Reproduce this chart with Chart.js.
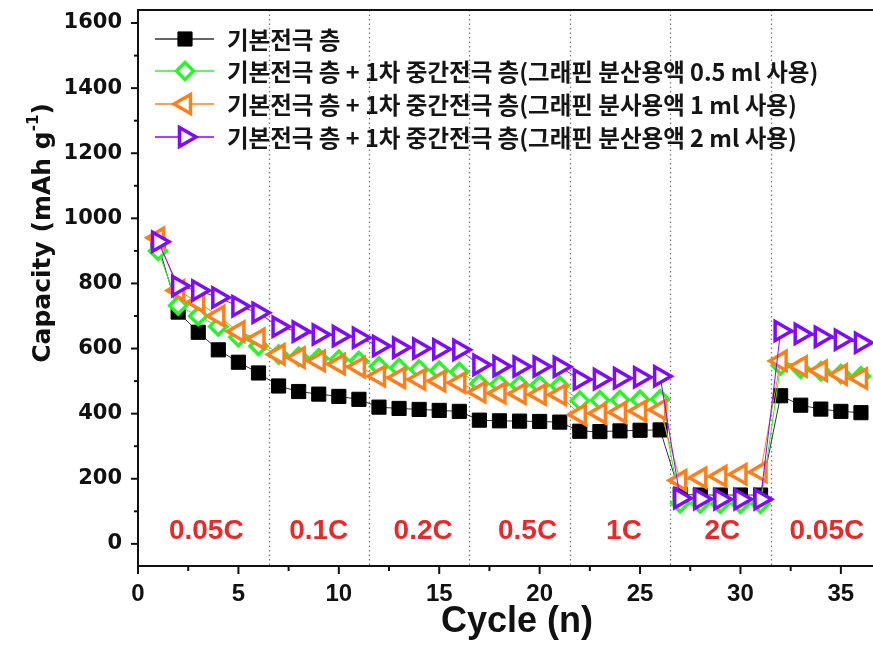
<!DOCTYPE html>
<html><head><meta charset="utf-8">
<script src="https://cdn.jsdelivr.net/npm/chart.js@4.4.0/dist/chart.umd.min.js"></script>
<style>html,body{margin:0;padding:0;background:#fff;overflow:hidden}canvas{display:block}</style>
</head><body>
<canvas id="c" width="873" height="645"></canvas>
<script>
// ---- data ----
const cycles = [1,2,3,4,5,6,7,8,9,10,11,12,13,14,15,16,17,18,19,20,21,22,23,24,25,26,27,28,29,30,31,32,33,34,35,36];
const baseCap = [920,712,650,596,558,525,485,468,460,453,444,420,416,413,410,407,380,378,377,376,374,346,345,347,349,350,152,150,150,150,150,455,426,414,407,403];
const gr05Cap = [900,732,700,668,635,608,582,575,570,566,562,545,540,536,532,528,492,490,488,487,486,440,441,442,443,444,125,124,123,123,123,548,538,530,522,515];
const gr1Cap  = [940,778,742,700,652,630,582,572,562,552,543,515,510,505,500,495,466,463,461,459,458,397,401,404,408,412,195,203,208,214,221,562,545,532,520,508];
const gr2Cap  = [928,792,778,757,730,710,667,652,643,638,633,608,603,600,598,596,550,546,545,545,544,505,506,509,512,515,140,138,137,137,137,654,645,636,627,618];
const seriesLabels = [
  '기본전극 층',
  '기본전극 층 + 1차 중간전극 층(그래핀 분산용액 0.5 ml 사용)',
  '기본전극 층 + 1차 중간전극 층(그래핀 분사용액 1 ml 사용)',
  '기본전극 층 + 1차 중간전극 층(그래핀 분산용액 2 ml 사용)'
];
const xTickValues = [0,5,10,15,20,25,30,35];
const xMinorValues = [2.5,7.5,12.5,17.5,22.5,27.5,32.5];
const yTickValues = [0,200,400,600,800,1000,1200,1400,1600];
const yMinorValues = [100,300,500,700,900,1100,1300,1500];
const rateBoundaries = [6.5,11.5,16.5,21.5,26.5,31.5];
const rateLabels = ['0.05C','0.1C','0.2C','0.5C','1C','2C','0.05C'];
const rateLabelX = [3.4,9.0,14.2,19.4,24.2,29.1,34.3];
const rateLabelY = 40;

// ---- styles ----
const styles = [
  {color:'#000000', line:'#333333', style:'rect', rot:0, r:10, bw:1, fill:'#000000'},
  {color:'#2cf22c', line:'#2cf22c', style:'rectRot', rot:0, r:8.5, bw:3.5, fill:'#ffffff'},
  {color:'#ff7f1e', line:'#ff7f1e', style:'triangle', rot:-90, r:11, bw:3.5, fill:'#ffffff'},
  {color:'#7f0aff', line:'#7f0aff', style:'triangle', rot:90, r:11, bw:3.5, fill:'#ffffff'}
];
const allSeries = [baseCap, gr05Cap, gr1Cap, gr2Cap];

const datasets = allSeries.map((vals, i) => ({
  label: seriesLabels[i],
  data: cycles.map((c, k) => ({x: c, y: vals[k]})),
  borderColor: styles[i].line,
  borderWidth: 1,
  pointStyle: styles[i].style,
  pointRotation: styles[i].rot,
  pointRadius: styles[i].r,
  pointBorderWidth: styles[i].bw,
  pointBorderColor: styles[i].color,
  pointBackgroundColor: styles[i].fill,
  tension: 0,
  clip: false,
  order: 4 - i
}));

function drawMarker(ctx, st, x, y) {
  ctx.save();
  ctx.fillStyle = st.fill; ctx.strokeStyle = st.color; ctx.lineWidth = st.bw;
  ctx.beginPath();
  const r = st.r;
  if (st.style === 'rect') {
    const s = Math.SQRT1_2 * r;
    ctx.rect(x - s, y - s, 2 * s, 2 * s);
  } else if (st.style === 'rectRot') {
    ctx.moveTo(x - r, y); ctx.lineTo(x, y - r); ctx.lineTo(x + r, y); ctx.lineTo(x, y + r); ctx.closePath();
  } else {
    let a = st.rot * Math.PI / 180;
    for (let k = 0; k < 3; k++) {
      const px = x + Math.sin(a) * r, py = y - Math.cos(a) * r;
      if (k === 0) ctx.moveTo(px, py); else ctx.lineTo(px, py);
      a += 2 * Math.PI / 3;
    }
    ctx.closePath();
  }
  ctx.fill(); ctx.stroke();
  ctx.restore();
}

const decor = {
  id: 'decor',
  beforeDatasetsDraw(chart) {
    const {ctx, chartArea: a, scales: {x, y}} = chart;
    ctx.save();
    ctx.strokeStyle = '#7a7a7a'; ctx.lineWidth = 1.3; ctx.setLineDash([1.5, 3]);
    rateBoundaries.forEach(v => {
      const px = Math.round(x.getPixelForValue(v)) + 0.5;
      ctx.beginPath(); ctx.moveTo(px, a.top); ctx.lineTo(px, a.bottom); ctx.stroke();
    });
    ctx.setLineDash([]);
    ctx.font = 'bold 28px "Liberation Sans", Arial, sans-serif';
    ctx.fillStyle = '#e42a2a'; ctx.textAlign = 'center'; ctx.textBaseline = 'middle';
    rateLabels.forEach((t, i) => ctx.fillText(t, x.getPixelForValue(rateLabelX[i]), y.getPixelForValue(rateLabelY)));
    ctx.restore();
  },
  afterDraw(chart) {
    const {ctx, chartArea: a, scales: {x, y}} = chart;
    ctx.save();
    // frame
    ctx.strokeStyle = '#111'; ctx.lineWidth = 2;
    ctx.beginPath();
    ctx.moveTo(a.right + 2, a.top); ctx.lineTo(a.left, a.top); ctx.lineTo(a.left, a.bottom); ctx.lineTo(a.right + 2, a.bottom);
    ctx.stroke();
    // ticks
    ctx.lineWidth = 2;
    yTickValues.forEach(v => { const py = y.getPixelForValue(v); ctx.beginPath(); ctx.moveTo(a.left - 7, py); ctx.lineTo(a.left, py); ctx.stroke(); });
    yMinorValues.forEach(v => { const py = y.getPixelForValue(v); ctx.beginPath(); ctx.moveTo(a.left - 4, py); ctx.lineTo(a.left, py); ctx.stroke(); });
    xTickValues.forEach(v => { const px = x.getPixelForValue(v); ctx.beginPath(); ctx.moveTo(px, a.bottom); ctx.lineTo(px, a.bottom + 8); ctx.stroke(); });
    xMinorValues.forEach(v => { const px = x.getPixelForValue(v); ctx.beginPath(); ctx.moveTo(px, a.bottom); ctx.lineTo(px, a.bottom + 5); ctx.stroke(); });
    // x title
    ctx.fillStyle = '#111';
    ctx.font = 'bold 36px "Liberation Sans", Arial, sans-serif';
    ctx.textAlign = 'center'; ctx.textBaseline = 'middle';
    ctx.fillText('Cycle (n)', 517, 622);
    // y title (rotated), with superscript
    ctx.save();
    ctx.translate(41, 233); ctx.rotate(-Math.PI / 2);
    const mainFont = 'bold 25px "DejaVu Sans", sans-serif';
    const supFont = 'bold 15px "DejaVu Sans", sans-serif';
    const p1 = 'Capacity (mAh g', p2 = '-1', p3 = ')';
    ctx.font = mainFont; const w1 = ctx.measureText(p1).width; const w3 = ctx.measureText(p3).width;
    ctx.font = supFont; const w2 = ctx.measureText(p2).width;
    let sx = -(w1 + w2 + w3) / 2;
    ctx.textAlign = 'left'; ctx.textBaseline = 'alphabetic';
    ctx.font = mainFont; ctx.fillText(p1, sx, 9); sx += w1;
    ctx.font = supFont; ctx.fillText(p2, sx, -3); sx += w2;
    ctx.font = mainFont; ctx.fillText(p3, sx, 9);
    ctx.restore();
    // legend
    const rowsY = [39, 71, 104, 137];
    ctx.font = 'bold 23.5px "Noto Sans CJK KR", sans-serif';
    ctx.textAlign = 'left'; ctx.textBaseline = 'middle';
    chart.data.datasets.forEach((ds, i) => {
      const st = styles[i], ly = rowsY[i];
      ctx.strokeStyle = st.line; ctx.lineWidth = 1.5;
      ctx.beginPath(); ctx.moveTo(155, ly); ctx.lineTo(214, ly); ctx.stroke();
      drawMarker(ctx, st, 185, ly);
      ctx.fillStyle = '#151515';
      ctx.fillText(ds.label, 227, ly + 1);
    });
    ctx.restore();
  }
};

new Chart(document.getElementById('c'), {
  type: 'line',
  data: { datasets },
  options: {
    responsive: false,
    animation: false,
    devicePixelRatio: 1,
    layout: { autoPadding: false, padding: { top: 10, left: 0, right: 0, bottom: 0 } },
    plugins: { legend: { display: false }, tooltip: { enabled: false } },
    scales: {
      x: {
        type: 'linear', min: 0, max: 36.6,
        afterBuildTicks: s => { s.ticks = xTickValues.map(v => ({value: v})); },
        afterFit: s => { s.height = 79; s.paddingLeft = 0; s.paddingRight = 0; },
        grid: { display: false, drawTicks: false },
        border: { display: false },
        ticks: { color: '#111', padding: 14, maxRotation: 0, autoSkip: false,
                 callback: v => String(v),
                 font: { family: '"Liberation Sans", Arial, sans-serif', weight: 'bold', size: 24 } }
      },
      y: {
        type: 'linear', min: -68, max: 1640,
        afterBuildTicks: s => { s.ticks = yTickValues.map(v => ({value: v})); },
        afterFit: s => { s.width = 138; s.paddingTop = 0; s.paddingBottom = 0; },
        grid: { display: false, drawTicks: false },
        border: { display: false },
        ticks: { color: '#111', padding: 16, autoSkip: false,
                 callback: v => String(v),
                 font: { family: '"DejaVu Sans", sans-serif', weight: 'bold', size: 21 } }
      }
    }
  },
  plugins: [decor]
});
</script>
</body></html>
